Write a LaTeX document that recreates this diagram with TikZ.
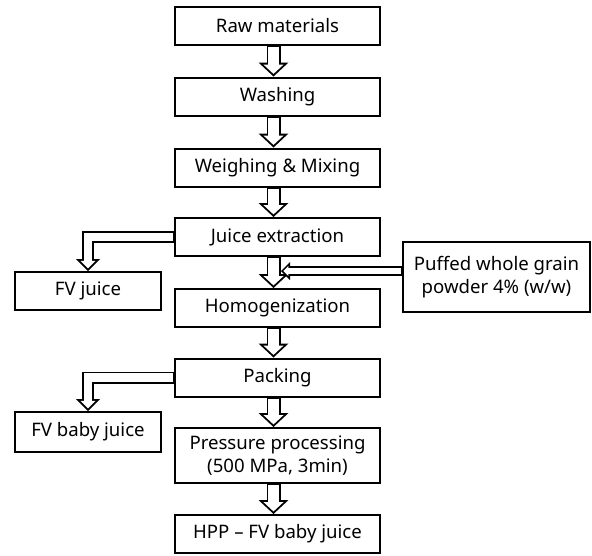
\documentclass[tikz,border=0pt]{standalone}
\usepackage{fontspec}
\setmainfont{Noto Sans}
\usetikzlibrary{arrows.meta}

\tikzset{
  stepbox/.style={draw=black, line width=2pt, minimum height=38pt, align=center,
    font=\fontsize{18.6}{23.5}\selectfont, inner sep=2pt},
  mainbox/.style={stepbox, minimum width=205pt},
  sidebox/.style={stepbox, minimum width=146pt},
  % hollow block arrows: black outline, white inside
  flow/.style={draw=black, line width=14pt,
    -{Triangle[length=14pt,width=30pt,line width=0pt]},
    postaction={draw=white, line width=10.2pt, shorten <=1pt, shorten >=2.6pt,
      -{Triangle[length=9.4pt,width=20.2pt,line width=0pt]}}},
  sideflow/.style={draw=black, line width=12pt,
    -{Triangle[length=12pt,width=24pt,line width=0pt]},
    postaction={draw=white, line width=8.2pt, shorten <=1pt, shorten >=2.7pt,
      -{Triangle[length=7.4pt,width=14.8pt,line width=0pt]}}},
  addflow/.style={draw=black, line width=10pt,
    -{Triangle[length=9pt,width=18pt,line width=0pt]},
    postaction={draw=white, line width=6.6pt, shorten <=1pt, shorten >=2.4pt,
      -{Triangle[length=4.9pt,width=9.8pt,line width=0pt]}}},
}

\begin{document}
\begin{tikzpicture}[x=1pt,y=1pt]
\useasboundingbox (0,0) rectangle (592,-555);

% main line
\node[mainbox] (raw)   at (277.5,-26)   {Raw materials};
\node[mainbox] (wash)  at (277.5,-96.5) {Washing};
\node[mainbox] (weigh) at (277.5,-167.5) {Weighing \& Mixing};
\node[mainbox] (juice) at (277.5,-237)  {Juice extraction};
\node[mainbox] (homog) at (277.5,-308)  {Homogenization};
\node[mainbox] (pack)  at (277.5,-377.5) {Packing};
\node[mainbox, minimum height=55pt] (press) at (277.5,-455.5) {Pressure processing\\(500 MPa, 3min)};
\node[mainbox] (hpp)   at (277.5,-534)  {HPP -- FV baby juice};

% side products
\node[sidebox] (fvjuice) at (88,-291)   {FV juice};
\node[sidebox, minimum height=40pt] (fvbaby) at (88,-432) {FV baby juice};
\node[stepbox, minimum width=187pt, minimum height=70pt] (puffed) at (496.5,-277) {Puffed whole grain\\powder 4\% (w/w)};

\coordinate (merge) at (281,-271);

\draw[flow] ([xshift=-4pt]raw.south)   -- ([xshift=-4pt]wash.north);
\draw[flow] ([xshift=-4pt]wash.south)  -- ([xshift=-4pt]weigh.north);
\draw[flow] ([xshift=-4pt]weigh.south) -- ([xshift=-4pt]juice.north);
\draw[flow] ([xshift=-4pt]juice.south) -- ([xshift=-4pt]homog.north);
\draw[flow] ([xshift=-4pt]homog.south) -- ([xshift=-4pt]pack.north);
\draw[flow] ([xshift=-4pt]pack.south)  -- ([xshift=-4pt]press.north);
\draw[flow] ([xshift=-4pt]press.south) -- ([xshift=-4pt]hpp.north);

\draw[sideflow] (juice.west) -| (fvjuice.north);
\draw[sideflow] (pack.west)  -| (fvbaby.north);
\draw[addflow] (puffed.west |- merge) -- (merge);
\end{tikzpicture}
\end{document}
